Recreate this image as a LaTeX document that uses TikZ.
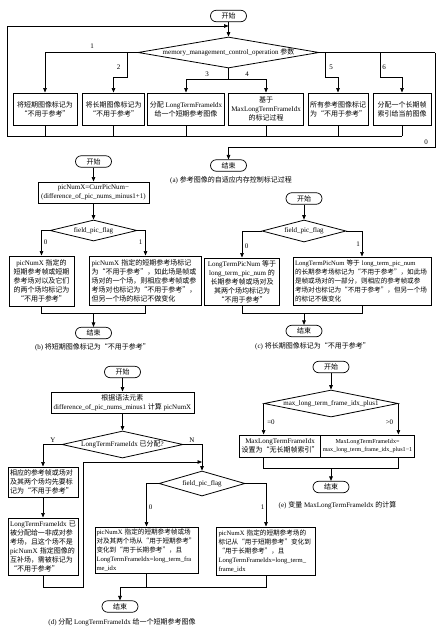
\documentclass[tikz,border=0pt]{standalone}
\usepackage{fontspec}
\setmainfont{Liberation Serif}
\newfontfamily\cjk{Noto Sans CJK SC}
\newfontfamily\latin{Liberation Serif}
\usetikzlibrary{shapes.geometric,arrows.meta}
\XeTeXinterchartokenstate=1
\newXeTeXintercharclass\cjkcls
\newcount\mycnt
\mycnt="4E00
\loop
\XeTeXcharclass\mycnt=\cjkcls
\ifnum\mycnt<"9FFF \advance\mycnt by 1 \repeat
\XeTeXcharclass"201C=\cjkcls
\XeTeXcharclass"201D=\cjkcls
\XeTeXcharclass"FF0C=\cjkcls
\XeTeXcharclass"3001=\cjkcls
\XeTeXinterchartoks 0 \cjkcls = {\cjk}
\XeTeXinterchartoks 4095 \cjkcls = {\cjk}
\XeTeXinterchartoks \cjkcls 0 = {\latin}
\XeTeXinterchartoks \cjkcls 4095 = {\latin}
\XeTeXinterchartoks 4095 0 = {\latin}
\tikzset{
 conn/.style={line width=0.7pt},
 arr/.style={conn,-{Triangle[length=4.5pt,width=3.6pt]}},
 bx/.style={draw,line width=1pt,inner xsep=2pt,inner ysep=0pt,align=center},
 bxl/.style={draw,line width=1pt,inner xsep=2pt,inner ysep=0pt,align=left},
 sm/.style={font=\fontsize{6.6}{9}\selectfont},
 dia/.style={draw,diamond,line width=0.8pt,inner sep=0pt},
 term/.style={draw,line width=0.7pt,rounded corners=5.75pt,minimum width=36pt,minimum height=11.5pt,inner sep=0pt},
 lab/.style={inner sep=0pt},
}
\begin{document}
\begin{tikzpicture}[x=1pt,y=-1pt,font=\fontsize{7}{9}\selectfont,line width=0.7pt]
\fill[white] (0,0) rectangle (444,630);
\useasboundingbox (0,0) rectangle (444,630);
% ---------------- (a)
\node[term] (aS) at (228.5,16) {开始};
\node[dia,minimum width=181pt,minimum height=31pt] (aD) at (228.5,52.5) {};
\node[lab] (aDt) at (aD) {memory\_management\_control\_operation 参数};
\node[bx,minimum width=64pt,minimum height=32pt] (a1) at (45,109) {将短期图像标记为\\“不用于参考”};
\node[bx,minimum width=62pt,minimum height=32pt] (a2) at (113.5,109) {将长期图像标记为\\“不用于参考”};
\node[bx,minimum width=76pt,minimum height=32pt] (a3) at (186,109) {分配~LongTermFrameIdx\\给一个短期参考图像};
\node[bx,minimum width=75pt,minimum height=32pt] (a4) at (266,109) {基于\\MaxLongTermFrameIdx\\的标记过程};
\node[bx,minimum width=59pt,minimum height=32pt] (a5) at (338,109) {所有参考图像标记\\为“不用于参考”};
\node[bx,minimum width=58pt,minimum height=32pt] (a6) at (402,109) {分配一个长期帧\\索引给当前图像};
\node[term] (aE) at (228.5,165.5) {结束};
\node[lab] (capA) at (231,180) {(a) 参考图像的自适应内存控制标记过程};
\coordinate (aLB) at (7,136);
\coordinate (aJ) at (228.5,26);
\coordinate (aB2) at (127,52.5);
\coordinate (aB34) at (228.5,79);
\coordinate (aB5) at (325,52.5);
\coordinate (aB6) at (380,52.5);
\coordinate (aR) at (435,52.5);
\coordinate (aR0) at (435,147);
\draw[arr] (aS) -- (aD);
\draw[arr] (aD.west) -| (a1.north);
\draw[arr] (aB2) -- ++(0,24.5) -| (a2.north);
\draw[conn] (aD.south) -- (aB34);
\draw[arr] (aB34) -| (a3.north);
\draw[arr] (aB34) -| (a4.north);
\draw[arr] (aB5) -- ++(0,24.5) -| (a5.north);
\draw[arr] (aB6) -- ++(0,24.5) -| (a6.north);
\draw[conn] (aD.east) -- (aR);
\draw[arr] (aR) -- (aR0) -| (aE.north);
\draw[conn] (a1.south) |- (aLB);
\draw[conn] (aLB) -- (a6.south |- aLB);
\foreach \n in {a2,a3,a4,a5,a6} \draw[conn] (\n.south) -- (\n.south |- aLB);
\draw[arr] (aLB) |- (aJ);
\node[lab] (l1) at (92,46) {1};
\node[lab] (l2) at (118.5,67) {2};
\node[lab] (l3) at (207,74.5) {3};
\node[lab] (l4) at (247,74.5) {4};
\node[lab] (l5) at (331,67) {5};
\node[lab] (l6) at (384,67) {6};
\node[lab] (l0) at (426,142) {0};
% ---------------- (b)
\node[term] (bS) at (93.5,161.5) {开始};
\node[bx,minimum width=111pt,minimum height=21pt] (bB) at (93.5,192.5) {picNumX=CurrPicNum−\\(difference\_of\_pic\_nums\_minus1+1)};
\node[dia,minimum width=87pt,minimum height=21pt] (bD) at (93.5,230.5) {};
\node[lab] (bDt) at (bD) {field\_pic\_flag};
\node[bx,minimum width=65pt,minimum height=50pt] (bL) at (41.5,281) {picNumX~指定的\\短期参考帧或短期\\参考场对以及它们\\的两个场均标记为\\“不用于参考”};
\node[bxl,text width=108pt,minimum height=49pt] (bR) at (145.5,280.5) {picNumX~指定的短期参考场标记\\为“不用于参考”，如此场是帧或\\场对的一个场，则相应参考帧或参\\考场对也标记为“不用于参考”，\\但另一个场的标记不做变化};
\node[term] (bE) at (93.5,333) {结束};
\node[lab] (capB) at (92.5,347) {(b) 将短期图像标记为“不用于参考”};
\coordinate (bM) at (93.5,313);
\draw[arr] (bS) -- (bB);
\draw[arr] (bB) -- (bD);
\draw[arr] (bD.west) -| (bL.north);
\draw[arr] (bD.east) -| (bR.north);
\draw[conn] (bL.south) |- (bM);
\draw[conn] (bR.south) |- (bM);
\draw[arr] (bM) -- (bE);
\node[lab] (lb0) at (45.5,242) {0};
\node[lab] (lb1) at (140.5,242) {1};
% ---------------- (c)
\node[term] (cS) at (304,198.5) {开始};
\node[dia,minimum width=84pt,minimum height=22pt] (cD) at (304,231) {};
\node[lab] (cDt) at (cD) {field\_pic\_flag};
\node[bx,minimum width=75pt,minimum height=47pt] (cL) at (242,281.5) {LongTermPicNum~等于\\long\_term\_pic\_num~的\\长期参考帧或场对及\\其两个场均标记为\\“不用于参考”};
\node[bxl,sm,text width=134pt,minimum height=48pt] (cR) at (362,281) {LongTermPicNum~等于~long\_term\_pic\_num\\的长期参考场标记为“不用于参考”，如此场\\是帧或场对的一部分，则相应的参考帧或参\\考场对也标记为“不用于参考”，但另一个场\\的标记不做变化};
\node[term] (cE) at (304,331) {结束};
\node[lab] (capC) at (312.5,346) {(c) 将长期图像标记为“不用于参考”};
\coordinate (cM) at (304,313);
\draw[arr] (cS) -- (cD);
\draw[arr] (cD.west) -| (cL.north);
\draw[arr] (cD.east) -| (cR.north);
\draw[conn] (cL.south) |- (cM);
\draw[conn] (cR.south) |- (cM);
\draw[arr] (cM) -- (cE);
\node[lab] (lc0) at (246.5,246) {0};
\node[lab] (lc1) at (358,244) {1};
% ---------------- (d)
\node[term] (dS) at (122.5,372) {开始};
\node[bx,minimum width=143pt,minimum height=21pt] (dB) at (122.5,402.5) {根据语法元素\\difference\_of\_pic\_nums\_minus1 计算 picNumX};
\node[dia,minimum width=121pt,minimum height=27pt] (dD) at (122.5,444.5) {};
\node[lab] (dDt) at (dD) {LongTermFrameIdx 已分配?};
\node[bxl,text width=66pt,minimum height=30pt] (dY1) at (43,482) {相应的参考帧或场对\\及其两个场均先要标\\记为“不用于参考”};
\node[bxl,text width=66pt,minimum height=57pt] (dY2) at (43,546.5) {LongTermFrameIdx~已\\被分配给一非成对参\\考场，且这个场不是\\picNumX~指定图像的\\互补场，需被标记为\\“不用于参考”};
\node[dia,minimum width=86pt,minimum height=25pt] (dF) at (202,483.5) {};
\node[lab] (dFt) at (dF) {field\_pic\_flag};
\node[bxl,sm,inner xsep=1.5pt,text width=100pt,minimum height=46pt] (dL) at (146.5,550) {picNumX~指定的短期参考帧或场\\对及其两个场从“用于短期参考”\\变化到“用于长期参考”，且\\LongTermFrameIdx=long\_term\_fra\\me\_idx};
\node[bxl,sm,text width=95pt,minimum height=48pt] (dR) at (266,551) {picNumX~指定的短期参考场的\\标记从“用于短期参考”变化到\\“用于长期参考”，且\\LongTermFrameIdx=long\_term\_\\frame\_idx};
\node[term] (dE) at (120,606.5) {结束};
\node[lab] (capD) at (122,622) {(d) 分配 LongTermFrameIdx 给一个短期参考图像};
\coordinate (dLoopB) at (83,587);
\coordinate (dLoopT) at (83,462);
\coordinate (dJ) at (202,462);
\coordinate (dM) at (120,587);
\draw[arr] (dS) -- (dB);
\draw[arr] (dB) -- (dD);
\draw[arr] (dD.west) -| (dY1.north);
\draw[arr] (dY1) -- (dY2);
\draw[arr] (dD.east) -| (dF.north);
\draw[arr] (dY2.south) |- (dLoopB) -- (dLoopT) -- (dJ);
\draw[arr] (dF.west) -| (dL.north);
\draw[arr] (dF.east) -| (dR.north);
\draw[conn] (dL.south) -- (dL.south |- dM);
\draw[conn] (dR.south) |- (dM);
\draw[arr] (dM) -- (dE);
\node[lab] (ldY) at (53,440) {Y};
\node[lab] (ldN) at (192,440) {N};
\node[lab] (ld0) at (150.5,507) {0};
\node[lab] (ld1) at (262.5,507) {1};
% ---------------- (e)
\node[term] (eS) at (331,367) {开始};
\node[dia,minimum width=134pt,minimum height=27pt] (eD) at (331,403.5) {};
\node[lab] (eDt) at (eD) {max\_long\_term\_frame\_idx\_plus1};
\node[bx,minimum width=80pt,minimum height=22pt] (eL) at (280,446) {MaxLongTermFrameIdx\\设置为“无长期帧索引”};
\node[bx,minimum width=81pt,minimum height=22pt,font=\fontsize{6.1}{8.5}\selectfont] (eR) at (367.5,446) {MaxLongTermFrameIdx=\\max\_long\_term\_frame\_idx\_plus1−1};
\node[term] (eE) at (331,487) {结束};
\node[lab] (capE) at (337.5,505) {(e) 变量 MaxLongTermFrameIdx 的计算};
\coordinate (eM) at (331,468);
\draw[arr] (eS) -- (eD);
\draw[arr] (eD.west) -- (eD.west |- eL.north);
\draw[arr] (eD.east) -- (eD.east |- eR.north);
\draw[conn] (eD.west |- eL.south) -- (eD.west |- eM) -- (eD.east |- eM) -- (eD.east |- eR.south);
\draw[arr] (eM) -- (eE);
\node[lab] (le0) at (271,422) {=0};
\node[lab] (le1) at (389.5,422) {>0};
\end{tikzpicture}
\end{document}
